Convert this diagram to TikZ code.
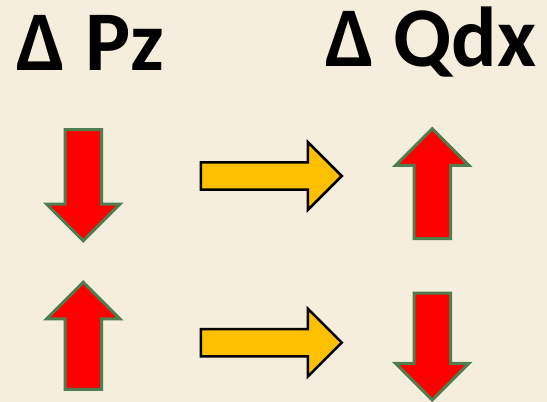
\documentclass[tikz,border=0pt]{standalone}
\usepackage{fontspec}
\newfontfamily\headfont{Carlito}
\usepackage{tikz}
\usetikzlibrary{shapes.arrows}
\usepackage{xcolor}
\definecolor{paper}{RGB}{246,238,221}
\definecolor{edgegreen}{RGB}{78,126,78}
\definecolor{swapgold}{RGB}{255,192,0}

\begin{document}
\begin{tikzpicture}[x=1pt, y=-1pt,
  heading/.style={font=\headfont\bfseries\fontsize{85}{100}\selectfont, inner sep=0pt, anchor=base west},
  updown/.style={single arrow, draw=edgegreen, fill=red, line width=3pt, inner sep=0pt,
              inner ysep=16.8pt, single arrow head extend=18.3pt, minimum width=0pt,
              minimum height=#1, anchor=tail},
  updown/.default=111pt,
  swaparrow/.style={single arrow, draw=black, fill=swapgold, line width=2.5pt, inner sep=0pt,
              inner ysep=12.3pt, single arrow head extend=20.4pt, minimum width=0pt,
              minimum height=141pt, anchor=tail}]
  \useasboundingbox[fill=paper] (0,0) rectangle (547,402);
  \node[heading] (pz) at (16.7,70.5) {Δ Pz};
  \node[heading] (qdx) at (325,66.7) {Δ Qdx};
  % cause
  \node[updown, rotate=-90] (pzdown) at (83.3,128.2) {};
  \node[updown=107pt, rotate=90] (pzup) at (83.3,390.8) {};
  % effect
  \node[swaparrow] (swaptop) at (199.5,176) {};
  \node[swaparrow] (swapbot) at (199.5,342.7) {};
  \node[updown=110pt, rotate=90] (qdxup) at (432.3,240.2) {};
  \node[updown=107pt, rotate=-90] (qdxdown) at (432.3,291.5) {};
\end{tikzpicture}
\end{document}
